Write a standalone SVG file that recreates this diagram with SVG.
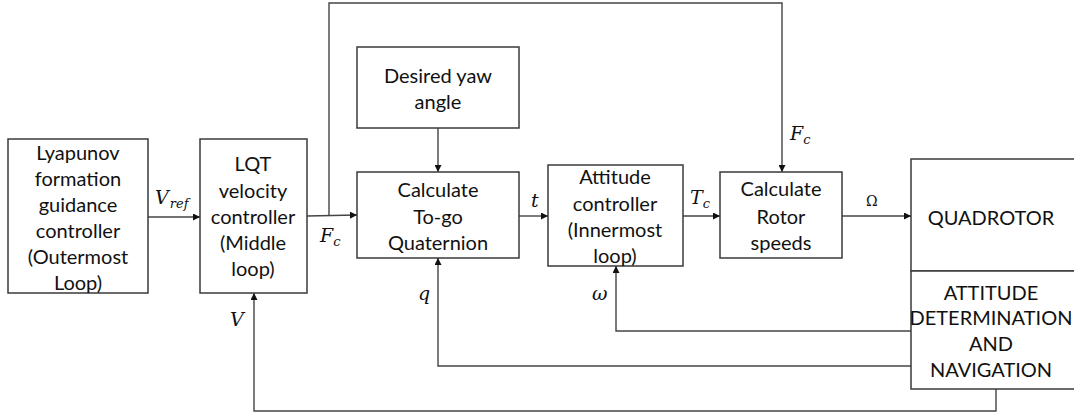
<svg xmlns="http://www.w3.org/2000/svg" width="1074" height="419" viewBox="0 0 1074 419">
<style>
.box{fill:#fff;stroke:#3a3a3a;stroke-width:1.5}
.ln{fill:none;stroke:#444;stroke-width:1.4}
.t{font-family:Lato,"Open Sans","Liberation Sans",sans-serif;font-size:20px;fill:#111;text-anchor:middle;dominant-baseline:central}
.m{font-family:"DejaVu Serif","Liberation Serif",serif;font-style:italic;font-size:19px;fill:#111}
.ms{font-family:"DejaVu Serif","Liberation Serif",serif;font-style:italic;font-size:13px;fill:#111}
</style>
<defs>
<marker id="ah" viewBox="0 0 10 10" refX="10" refY="5" markerWidth="8" markerHeight="7" markerUnits="userSpaceOnUse" orient="auto">
<path d="M0,0 L10,5 L0,10 z" fill="#111"/>
</marker>
</defs>
<rect width="1074" height="419" fill="#fff"/>
<g id="connectors">
<path class="ln" d="M148,217 H200" marker-end="url(#ah)"/>
<path class="ln" d="M307,216 L357,215" marker-end="url(#ah)"/>
<path class="ln" d="M329,216 V3 H782 V172" marker-end="url(#ah)"/>
<path class="ln" d="M438,128 V172" marker-end="url(#ah)"/>
<path class="ln" d="M519,216 H548" marker-end="url(#ah)"/>
<path class="ln" d="M683,216 H720" marker-end="url(#ah)"/>
<path class="ln" d="M842,216 H911" marker-end="url(#ah)"/>
<path class="ln" d="M911,331 H616 V266" marker-end="url(#ah)"/>
<path class="ln" d="M911,366 H438 V258" marker-end="url(#ah)"/>
<path class="ln" d="M996,389 V411 H254 V293" marker-end="url(#ah)"/>
</g>
<g id="labels">
<text class="m" x="155" y="204">V<tspan class="ms" dx="1" dy="4">ref</tspan></text>
<text class="m" x="320" y="242">F<tspan class="ms" dy="4">c</tspan></text>
<text class="m" x="230" y="326">V</text>
<text class="m" x="531" y="207">t</text>
<text class="m" x="690" y="204">T<tspan class="ms" dy="4">c</tspan></text>
<text class="m" x="790" y="140">F<tspan class="ms" dy="4">c</tspan></text>
<text class="m" x="866" y="206" style="font-style:normal;font-size:14px">Ω</text>
<text class="m" x="418" y="300">q</text>
<text class="m" x="592" y="300">ω</text>
</g>
<g id="lyapunov">
<rect class="box" x="8" y="139" width="140" height="154"/>
<text class="t" x="78" y="152">Lyapunov</text>
<text class="t" x="78" y="178">formation</text>
<text class="t" x="78" y="204">guidance</text>
<text class="t" x="78" y="230">controller</text>
<text class="t" x="78" y="256">(Outermost</text>
<text class="t" x="78" y="282">Loop)</text>
</g>
<g id="lqt">
<rect class="box" x="200" y="139" width="107" height="154"/>
<text class="t" x="253" y="163">LQT</text>
<text class="t" x="253" y="190">velocity</text>
<text class="t" x="253" y="216">controller</text>
<text class="t" x="253" y="242">(Middle</text>
<text class="t" x="253" y="268">loop)</text>
</g>
<g id="yaw">
<rect class="box" x="357" y="47" width="162" height="81"/>
<text class="t" x="438" y="75">Desired yaw</text>
<text class="t" x="438" y="101">angle</text>
</g>
<g id="togo">
<rect class="box" x="357" y="172" width="162" height="86"/>
<text class="t" x="438" y="189">Calculate</text>
<text class="t" x="438" y="216">To-go</text>
<text class="t" x="438" y="242">Quaternion</text>
</g>
<g id="attitude">
<rect class="box" x="548" y="165" width="135" height="101"/>
<text class="t" x="615" y="176">Attitude</text>
<text class="t" x="615" y="203">controller</text>
<text class="t" x="615" y="229">(Innermost</text>
<text class="t" x="615" y="255">loop)</text>
</g>
<g id="rotor">
<rect class="box" x="720" y="172" width="122" height="86"/>
<text class="t" x="781" y="188">Calculate</text>
<text class="t" x="781" y="216">Rotor</text>
<text class="t" x="781" y="242">speeds</text>
</g>
<g id="quadrotor">
<rect class="box" x="911" y="159" width="170" height="112"/>
<text class="t" x="991" y="217">QUADROTOR</text>
</g>
<g id="navigation">
<rect class="box" x="911" y="271" width="170" height="118"/>
<text class="t" x="991" y="292">ATTITUDE</text>
<text class="t" x="991" y="317">DETERMINATION</text>
<text class="t" x="991" y="343">AND</text>
<text class="t" x="991" y="369">NAVIGATION</text>
</g>
</svg>
